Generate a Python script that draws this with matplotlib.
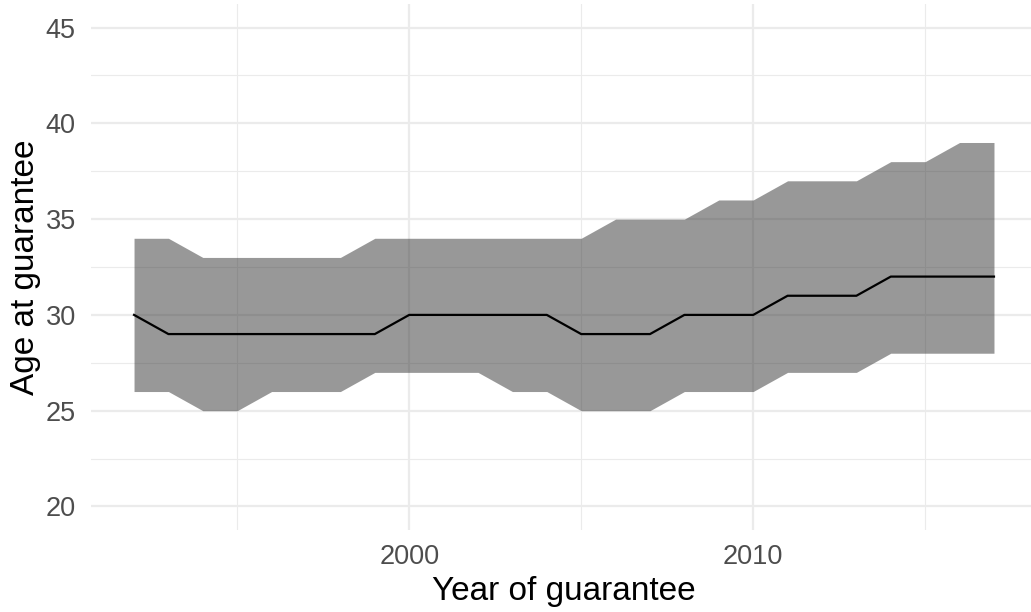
import numpy as np
import matplotlib
matplotlib.use("Agg")
import matplotlib.pyplot as plt
from matplotlib.ticker import MultipleLocator

# Data
years = list(range(1992, 2018))
median_age = [30, 29, 29, 29, 29, 29, 29, 29, 30, 30, 30, 30, 30,
              29, 29, 29, 30, 30, 30, 31, 31, 31, 32, 32, 32, 32]
lower_age = [26, 26, 25, 25, 26, 26, 26, 27, 27, 27, 27, 26, 26,
             25, 25, 25, 26, 26, 26, 27, 27, 27, 28, 28, 28, 28]
upper_age = [34, 34, 33, 33, 33, 33, 33, 34, 34, 34, 34, 34, 34,
             34, 35, 35, 35, 36, 36, 37, 37, 37, 38, 38, 39, 39]

plt.rcParams['font.family'] = ['Liberation Sans', 'DejaVu Sans']

fig = plt.figure(figsize=(10.31, 6.12), dpi=100)
ax = fig.add_axes([0.0883, 0.1333, 1.0058 - 0.0883, 0.9941 - 0.1333])

# grid (theme_minimal look)
ax.set_axisbelow(True)
ax.xaxis.set_major_locator(MultipleLocator(10))
ax.xaxis.set_minor_locator(MultipleLocator(5))
ax.yaxis.set_major_locator(MultipleLocator(5))
ax.yaxis.set_minor_locator(MultipleLocator(2.5))
ax.grid(which='major', color='#EBEBEB', linewidth=1.6)
ax.grid(which='minor', color='#EBEBEB', linewidth=0.8)

ax.fill_between(years, lower_age, upper_age, color='#333333', alpha=0.5,
                linewidth=0, zorder=2)
ax.plot(years, median_age, color='black', linewidth=1.6, zorder=3)

ax.set_xlim(1990.75, 2018.25)
ax.set_ylim(18.75, 46.25)

for s in ax.spines.values():
    s.set_visible(False)
ax.tick_params(which='both', length=0)
ax.tick_params(axis='x', labelsize=19.5, labelcolor='#4D4D4D', pad=10)
ax.tick_params(axis='y', labelsize=19.5, labelcolor='#4D4D4D', pad=11)

ax.set_xlabel("Year of guarantee", fontsize=24, color='black', labelpad=4)
ax.set_ylabel("Age at guarantee", fontsize=24, color='black', labelpad=3)

fig.savefig("out.png", dpi=100)
